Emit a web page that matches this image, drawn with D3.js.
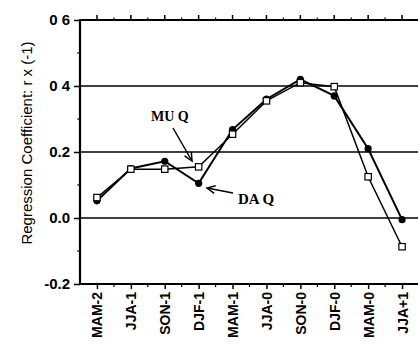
<!DOCTYPE html>
<meta charset="utf-8">
<style>
    body { margin: 0; background: #fff; }
    text { font-family: "Liberation Sans", Arial, sans-serif; }
    .ann { font-family: "Liberation Serif", "Times New Roman", serif; font-weight: bold; font-size: 14px; }
</style>
<body>
<svg width="418" height="344"></svg>
<script src="https://d3js.org/d3.v7.min.js"></script>
<script>

    // seasons along the x axis
    var seasons = ["MAM-2", "JJA-1", "SON-1", "DJF-1", "MAM-1", "JJA-0", "SON-0", "DJF-0", "MAM-0", "JJA+1"];

    // DA Q (filled circles) and MU Q (open squares)
    var daQ = [0.052, 0.150, 0.172, 0.105, 0.268, 0.360, 0.420, 0.370, 0.210, -0.005];
    var muQ = [0.062, 0.148, 0.148, 0.155, 0.254, 0.355, 0.410, 0.398, 0.125, -0.087];

    var yTicks = [0.6, 0.4, 0.2, 0.0, -0.2];
    var yTickLabels = ["0 6", "0 4", "0.2", "0.0", "-0.2"];
    var yMinor = [0.5, 0.3, 0.1, -0.1];
    var gridValues = [0.4, 0.2, 0.0];

    var svg = d3.select("svg");
    var plotL = 80, plotR = 418, plotT = 20, plotB = 284;

    var x = d3.scalePoint().domain(seasons).range([plotL, plotL + 339]).padding(0.5);
    var y = d3.scaleLinear().domain([-0.2, 0.6]).range([plotB, plotT]);

    // minor x positions halfway between categories
    var step = x.step();
    var xMinor = seasons.map(function (d) { return x(d) + step / 2; }).filter(function (v) { return v < plotR; });

    // gridlines
    svg.append("g").selectAll("line")
        .data(gridValues)
        .enter().append("line")
        .attr("x1", plotL).attr("x2", plotR)
        .attr("y1", function (d) { return y(d); })
        .attr("y2", function (d) { return y(d); })
        .attr("stroke", "#000").attr("stroke-width", 1.5);

    // left axis
    var yAxis = d3.axisLeft(y)
        .tickValues(yTicks)
        .tickSize(6)
        .tickPadding(4)
        .tickFormat(function (d, i) { return yTickLabels[i]; });
    var gy = svg.append("g").attr("transform", "translate(" + plotL + ",0)").call(yAxis);
    gy.select(".domain").remove();
    gy.selectAll("line").attr("stroke-width", 1.5);
    gy.selectAll("text").attr("font-size", 15).attr("font-weight", "bold").attr("fill", "#000")
        .attr("font-family", "Liberation Sans, Arial, sans-serif");
    svg.append("g").selectAll("line")
        .data(yMinor)
        .enter().append("line")
        .attr("x1", plotL - 3).attr("x2", plotL)
        .attr("y1", function (d) { return y(d); })
        .attr("y2", function (d) { return y(d); })
        .attr("stroke", "#000").attr("stroke-width", 1);

    // bottom axis
    var xAxis = d3.axisBottom(x).tickSize(5).tickPadding(4);
    var gx = svg.append("g").attr("transform", "translate(0," + plotB + ")").call(xAxis);
    gx.select(".domain").remove();
    gx.selectAll("line").attr("stroke-width", 1.5);
    gx.selectAll("text")
        .attr("font-size", 14).attr("font-weight", "bold").attr("fill", "#000")
        .attr("font-family", "Liberation Sans, Arial, sans-serif")
        .attr("transform", "rotate(-90)")
        .attr("text-anchor", "end")
        .attr("x", -8).attr("y", 0).attr("dy", "0.36em");

    // top ticks (pointing up)
    var topTicks = svg.append("g");
    topTicks.selectAll("line.maj")
        .data(seasons)
        .enter().append("line")
        .attr("x1", function (d) { return x(d); })
        .attr("x2", function (d) { return x(d); })
        .attr("y1", plotT).attr("y2", plotT - 5)
        .attr("stroke", "#000").attr("stroke-width", 1.5);
    topTicks.selectAll("line.min")
        .data(xMinor)
        .enter().append("line")
        .attr("x1", function (d) { return d; })
        .attr("x2", function (d) { return d; })
        .attr("y1", plotT).attr("y2", plotT - 2.5)
        .attr("stroke", "#000").attr("stroke-width", 1.2);
    svg.append("g").selectAll("line")
        .data(xMinor)
        .enter().append("line")
        .attr("x1", function (d) { return d; })
        .attr("x2", function (d) { return d; })
        .attr("y1", plotB).attr("y2", plotB + 3)
        .attr("stroke", "#000").attr("stroke-width", 1.2);

    // frame: top, left, bottom
    svg.append("line").attr("x1", plotL).attr("x2", plotR).attr("y1", plotT).attr("y2", plotT)
        .attr("stroke", "#000").attr("stroke-width", 2);
    svg.append("line").attr("x1", plotL).attr("x2", plotR).attr("y1", plotB).attr("y2", plotB)
        .attr("stroke", "#000").attr("stroke-width", 2);
    svg.append("line").attr("x1", plotL).attr("x2", plotL).attr("y1", plotT - 1).attr("y2", plotB + 1)
        .attr("stroke", "#000").attr("stroke-width", 2.2);

    // y title
    svg.append("text")
        .attr("transform", "translate(32,143) rotate(-90)")
        .attr("text-anchor", "middle")
        .attr("font-size", 15)
        .attr("fill", "#000")
        .text("Regression Coefficient: r x (-1)");

    var line = d3.line()
        .x(function (d, i) { return x(seasons[i]); })
        .y(function (d) { return y(d); });

    svg.append("path").datum(muQ)
        .attr("d", line).attr("fill", "none")
        .attr("stroke", "#000").attr("stroke-width", 1.5);
    svg.append("path").datum(daQ)
        .attr("d", line).attr("fill", "none")
        .attr("stroke", "#000").attr("stroke-width", 2);

    svg.append("g").selectAll("circle")
        .data(daQ)
        .enter().append("circle")
        .attr("cx", function (d, i) { return x(seasons[i]); })
        .attr("cy", function (d) { return y(d); })
        .attr("r", 3.6)
        .attr("fill", "#000");

    svg.append("g").selectAll("rect")
        .data(muQ)
        .enter().append("rect")
        .attr("x", function (d, i) { return x(seasons[i]) - 3.2; })
        .attr("y", function (d) { return y(d) - 3.2; })
        .attr("width", 6.4).attr("height", 6.4)
        .attr("fill", "#fff").attr("stroke", "#000").attr("stroke-width", 1.2);

    // annotations with open arrowheads
    function arrow(x1, y1, x2, y2) {
        var a = Math.atan2(y2 - y1, x2 - x1), h = 9, w = 0.45;
        var g = svg.append("g").attr("stroke", "#000").attr("stroke-width", 1.5).attr("fill", "none");
        g.append("line").attr("x1", x1).attr("y1", y1).attr("x2", x2).attr("y2", y2);
        g.append("path").attr("d",
            "M" + (x2 - h * Math.cos(a - w)) + "," + (y2 - h * Math.sin(a - w)) +
            "L" + x2 + "," + y2 +
            "L" + (x2 - h * Math.cos(a + w)) + "," + (y2 - h * Math.sin(a + w)));
    }

    svg.append("text").attr("class", "ann").attr("x", 151).attr("y", 121).text("MU Q");
    arrow(173, 128, 192, 161);
    svg.append("text").attr("class", "ann").attr("x", 238).attr("y", 204).style("font-size", "15px").text("DA Q");
    arrow(233, 193, 207, 188);

</script>
</body>
